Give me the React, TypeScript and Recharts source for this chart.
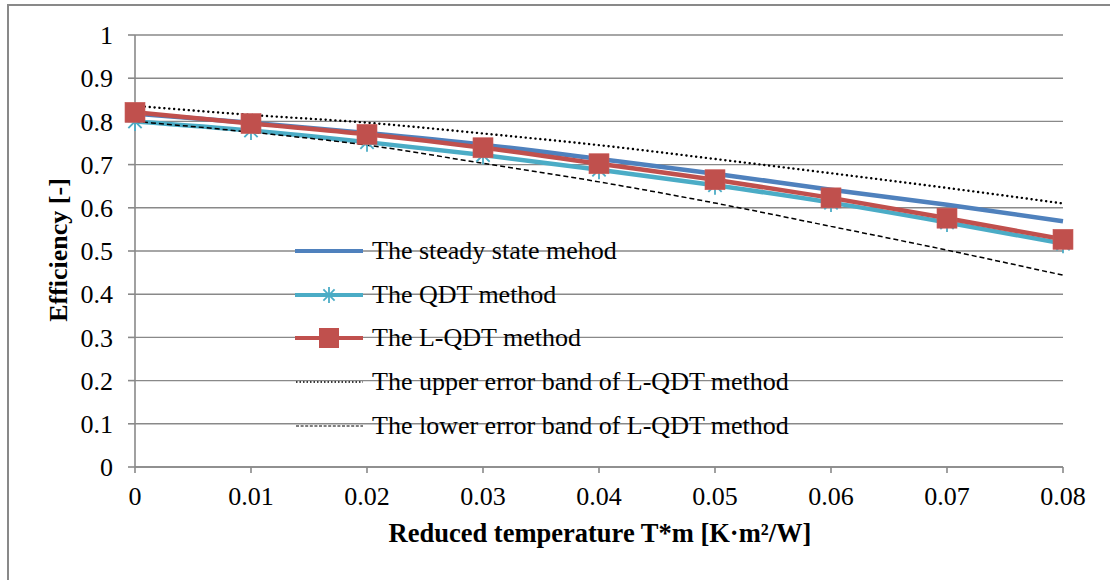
import React from "react";
import { LineChart, Line, XAxis, YAxis, CartesianGrid, Legend } from "recharts";

// reduced temperature T*m (K·m²/W)
const temps = [0, 0.01, 0.02, 0.03, 0.04, 0.05, 0.06, 0.07, 0.08];

// efficiency
const steadyState = [0.818, 0.797, 0.773, 0.746, 0.713, 0.679, 0.642, 0.607, 0.569];
const qdt = [0.8, 0.779, 0.752, 0.722, 0.688, 0.652, 0.612, 0.566, 0.517];
const lqdt = [0.821, 0.795, 0.77, 0.739, 0.702, 0.665, 0.623, 0.576, 0.527];
const upperBand = [0.836, 0.815, 0.797, 0.772, 0.745, 0.713, 0.68, 0.646, 0.61];
const lowerBand = [0.8, 0.775, 0.745, 0.703, 0.66, 0.611, 0.557, 0.502, 0.444];

const yTicks = [0, 0.1, 0.2, 0.3, 0.4, 0.5, 0.6, 0.7, 0.8, 0.9, 1];

const seriesNames = [
  "The steady state mehod",
  "The QDT method",
  "The L-QDT method",
  "The upper error band of L-QDT method",
  "The lower error band of L-QDT method",
];

const BLUE = "#4F81BD";
const TEAL = "#4BACC6";
const RED = "#C0504D";
const GRID = "#898989";
const SERIF = "'Liberation Serif', 'Times New Roman', serif";

const data = temps.map((t, i) => ({
  t,
  steady: steadyState[i],
  qdt: qdt[i],
  lqdt: lqdt[i],
  upper: upperBand[i],
  lower: lowerBand[i],
}));

function Star({ cx, cy, r = 9.5 }: { cx: number; cy: number; r?: number }) {
  const d = r * 0.7;
  return (
    <g stroke={TEAL} strokeWidth={1.8}>
      <line x1={cx} y1={cy - r} x2={cx} y2={cy + r} />
      <line x1={cx - d} y1={cy - d} x2={cx + d} y2={cy + d} />
      <line x1={cx - d} y1={cy + d} x2={cx + d} y2={cy - d} />
      <line x1={cx - r} y1={cy} x2={cx + r} y2={cy} />
    </g>
  );
}

const starDot = (props: any) => {
  if (props.cx == null || props.cy == null) return <g key={`s-${props.index}`} />;
  return (
    <g key={`s-${props.index}`}>
      <Star cx={props.cx} cy={props.cy} />
    </g>
  );
};

const squareDot = (props: any) => {
  if (props.cx == null || props.cy == null) return <g key={`q-${props.index}`} />;
  return (
    <rect
      key={`q-${props.index}`}
      x={props.cx - 10}
      y={props.cy - 10}
      width={20}
      height={20}
      fill={RED}
      stroke="#C85B58"
      strokeWidth={0.6}
    />
  );
};

function LegendSample({ idx }: { idx: number }) {
  const y = 15;
  if (idx === 0) return <line x1={0} x2={68} y1={y} y2={y} stroke={BLUE} strokeWidth={4} />;
  if (idx === 1)
    return (
      <g>
        <line x1={0} x2={68} y1={y} y2={y} stroke={TEAL} strokeWidth={4} />
        <Star cx={34} cy={y} r={8} />
      </g>
    );
  if (idx === 2)
    return (
      <g>
        <line x1={0} x2={68} y1={y} y2={y} stroke={RED} strokeWidth={4} />
        <rect x={24} y={y - 10} width={20} height={20} fill={RED} />
      </g>
    );
  if (idx === 3)
    return <line x1={1} x2={68} y1={y} y2={y} stroke="#000" strokeWidth={1.6} strokeDasharray="1.5 2" />;
  return <line x1={1} x2={68} y1={y} y2={y} stroke="#000" strokeWidth={1} strokeDasharray="3 1.6" />;
}

const renderLegend = () => (
  <div style={{ fontFamily: SERIF, fontSize: 26, color: "#000" }}>
    {seriesNames.map((name, i) => (
      <div key={name} style={{ display: "flex", alignItems: "center", height: 43.7 }}>
        <svg width={68} height={30} style={{ marginRight: 9, flex: "none" }}>
          <LegendSample idx={i} />
        </svg>
        <span style={{ lineHeight: "30px", whiteSpace: "nowrap" }}>{name}</span>
      </div>
    ))}
  </div>
);

export default function App() {
  return (
    <div
      style={{
        position: "absolute",
        left: 0,
        top: 0,
        width: 1110,
        height: 580,
        overflow: "hidden",
        background: "#fff",
      }}
    >
      <div
        style={{
          position: "absolute",
          left: 7,
          top: 4,
          width: 1200,
          height: 700,
          borderLeft: `2px solid ${GRID}`,
          borderTop: `2px solid ${GRID}`,
        }}
      />
      <div style={{ position: "absolute", left: 0, top: 0 }}>
        <LineChart
          width={1110}
          height={580}
          data={data}
          margin={{ top: 35, right: 47, left: 55, bottom: 53 }}
        >
          <CartesianGrid vertical={false} stroke={GRID} strokeWidth={1.4} />
          <XAxis
            dataKey="t"
            type="number"
            domain={[0, 0.08]}
            ticks={temps}
            interval={0}
            height={60}
            tickSize={6}
            tickMargin={14}
            tickFormatter={(v: number) => String(v)}
            axisLine={{ stroke: GRID, strokeWidth: 1.6 }}
            tickLine={{ stroke: GRID, strokeWidth: 1.6 }}
            tick={{ fill: "#000", fontSize: 26, fontFamily: SERIF }}
            label={{
              content: () => (
                <text
                  x={600}
                  y={542}
                  textAnchor="middle"
                  fontFamily={SERIF}
                  fontWeight="bold"
                  fontSize={26.5}
                  fill="#000"
                >
                  Reduced temperature T*m [K·m²/W]
                </text>
              ),
            }}
          />
          <YAxis
            type="number"
            domain={[0, 1]}
            ticks={yTicks}
            interval={0}
            width={80}
            tickSize={7}
            tickMargin={15}
            tickFormatter={(v: number) => String(v)}
            axisLine={{ stroke: GRID, strokeWidth: 1.6 }}
            tickLine={{ stroke: GRID, strokeWidth: 1.6 }}
            tick={{ fill: "#000", fontSize: 26, fontFamily: SERIF }}
            label={{
              content: () => (
                <text
                  x={67}
                  y={250}
                  transform="rotate(-90 67 250)"
                  textAnchor="middle"
                  fontFamily={SERIF}
                  fontWeight="bold"
                  fontSize={26}
                  fill="#000"
                >
                  Efficiency [-]
                </text>
              ),
            }}
          />
          <Legend
            layout="vertical"
            align="center"
            verticalAlign="middle"
            width={560}
            content={renderLegend}
            wrapperStyle={{ left: 295, top: 229 }}
          />
          <Line
            type="monotone"
            dataKey="steady"
            name={seriesNames[0]}
            stroke={BLUE}
            strokeWidth={4.5}
            dot={false}
            activeDot={false}
            isAnimationActive={false}
          />
          <Line
            type="monotone"
            dataKey="qdt"
            name={seriesNames[1]}
            stroke={TEAL}
            strokeWidth={4.5}
            dot={starDot}
            activeDot={false}
            isAnimationActive={false}
          />
          <Line
            type="monotone"
            dataKey="lqdt"
            name={seriesNames[2]}
            stroke={RED}
            strokeWidth={4.5}
            dot={squareDot}
            activeDot={false}
            isAnimationActive={false}
          />
          <Line
            type="monotone"
            dataKey="upper"
            name={seriesNames[3]}
            stroke="#000"
            strokeWidth={2.4}
            strokeDasharray="0.1 4.8"
            strokeLinecap="round"
            dot={false}
            activeDot={false}
            isAnimationActive={false}
          />
          <Line
            type="monotone"
            dataKey="lower"
            name={seriesNames[4]}
            stroke="#000"
            strokeWidth={1.5}
            strokeDasharray="5 3"
            dot={false}
            activeDot={false}
            isAnimationActive={false}
          />
        </LineChart>
      </div>
    </div>
  );
}
